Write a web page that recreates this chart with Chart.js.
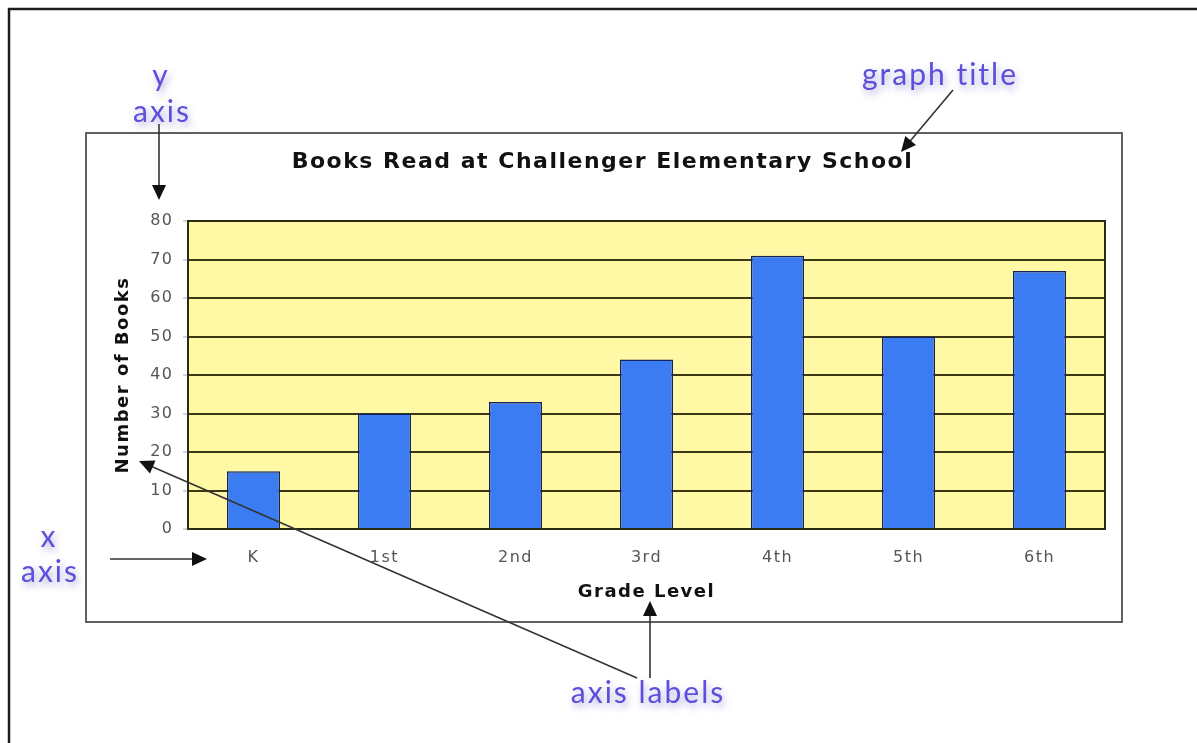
<!DOCTYPE html>
<html>
<head>
<meta charset="utf-8">
<script src="https://cdn.jsdelivr.net/npm/chart.js@4"></script>
<style>
  html, body { margin: 0; padding: 0; background: #fff; }
  canvas { display: block; }
</style>
</head>
<body>
<canvas id="chart" width="1197" height="743"></canvas>
<script>
// data
const grades = ['K', '1st', '2nd', '3rd', '4th', '5th', '6th'];
const booksRead = [15, 30, 33, 44, 71, 50, 67];
const yTicks = [0, 10, 20, 30, 40, 50, 60, 70, 80];
const chartTitle = 'Books Read at Challenger Elementary School';
const xTitle = 'Grade Level';
const yTitle = 'Number of Books';

Chart.defaults.font.family = "'DejaVu Sans', Verdana, sans-serif";

function arrow(ctx, x1, y1, x2, y2) {
  const a = Math.atan2(y2 - y1, x2 - x1);
  const len = 15, w = 7;
  ctx.beginPath();
  ctx.moveTo(x1, y1);
  ctx.lineTo(x2 - Math.cos(a) * len * 0.8, y2 - Math.sin(a) * len * 0.8);
  ctx.stroke();
  ctx.beginPath();
  ctx.moveTo(x2, y2);
  ctx.lineTo(x2 - Math.cos(a) * len - Math.sin(a) * w, y2 - Math.sin(a) * len + Math.cos(a) * w);
  ctx.lineTo(x2 - Math.cos(a) * len + Math.sin(a) * w, y2 - Math.sin(a) * len - Math.cos(a) * w);
  ctx.closePath();
  ctx.fill();
}

function note(ctx, text, x, y) {
  ctx.save();
  ctx.font = "30px Lato, 'Open Sans', sans-serif";
  ctx.letterSpacing = '2px';
  ctx.textAlign = 'center';
  ctx.textBaseline = 'alphabetic';
  ctx.shadowColor = 'rgba(110,100,190,0.55)';
  ctx.shadowBlur = 7;
  ctx.shadowOffsetX = 2;
  ctx.shadowOffsetY = 4;
  ctx.fillStyle = '#5b4fdc';
  ctx.fillText(text, x + 1, y);
  ctx.restore();
}

// frames, plot background and the teaching notes round the chart
const decor = {
  id: 'decor',
  beforeDraw(chart) {
    const { ctx, chartArea: a } = chart;
    ctx.save();
    // page frame (top and left only, the rest is cut off)
    ctx.strokeStyle = '#1c1c1c';
    ctx.lineWidth = 2.5;
    ctx.beginPath();
    ctx.moveTo(9, 743);
    ctx.lineTo(9, 9);
    ctx.lineTo(1197, 9);
    ctx.stroke();
    // chart box
    ctx.strokeStyle = '#3a3a3a';
    ctx.lineWidth = 1.6;
    ctx.strokeRect(86, 133, 1036, 489);
    // plot area
    ctx.fillStyle = '#fff9a6';
    ctx.fillRect(a.left, a.top, a.right - a.left, a.bottom - a.top);
    ctx.restore();
    // the source image is stretched sideways, widen the chart's text a bit
    ctx.letterSpacing = '1.5px';
  },
  afterDraw(chart) {
    const { ctx, chartArea: a } = chart;
    ctx.letterSpacing = '0px';
    ctx.save();
    ctx.strokeStyle = '#2b2a12';
    ctx.lineWidth = 2;
    ctx.strokeRect(a.left, a.top, a.right - a.left, a.bottom - a.top);

    ctx.strokeStyle = '#333';
    ctx.fillStyle = '#111';
    ctx.lineWidth = 1.6;
    arrow(ctx, 159, 124, 159, 200);
    arrow(ctx, 953, 90, 901, 152);
    arrow(ctx, 110, 559, 207, 559);
    arrow(ctx, 637, 678, 139, 461);
    arrow(ctx, 650, 678, 650, 601);
    ctx.restore();

    note(ctx, 'y', 160, 86);
    note(ctx, 'axis', 161, 122);
    note(ctx, 'graph title', 939, 85);
    note(ctx, 'x', 48, 547);
    note(ctx, 'axis', 49, 582);
    note(ctx, 'axis labels', 647, 703);
  }
};

new Chart(document.getElementById('chart'), {
  type: 'bar',
  data: {
    labels: grades,
    datasets: [{
      label: 'Books',
      data: booksRead,
      backgroundColor: '#3b7cf3',
      borderColor: '#14245a',
      borderWidth: 1.5,
      categoryPercentage: 1,
      barPercentage: 0.405
    }]
  },
  options: {
    responsive: false,
    animation: false,
    layout: { padding: { left: 100, right: 92, top: 133, bottom: 120 } },
    plugins: {
      legend: { display: false },
      tooltip: { enabled: false },
      title: {
        display: true,
        text: chartTitle,
        color: '#111',
        font: { size: 22, weight: 'bold' },
        padding: { top: 15.8, bottom: 45.8 }
      }
    },
    scales: {
      x: {
        afterFit: s => { s.height = 94; },
        grid: { display: false, drawTicks: false },
        border: { display: false },
        ticks: { color: '#555', font: { size: 16 }, padding: 19 },
        title: {
          display: true,
          text: xTitle,
          color: '#111',
          font: { size: 18, weight: 'bold' },
          padding: { top: 0, bottom: 20 }
        }
      },
      y: {
        min: 0,
        max: 80,
        afterFit: s => { s.width = 88; },
        afterBuildTicks: s => { s.ticks = yTicks.map(v => ({ value: v })); },
        grid: {
          color: '#3a3712',
          lineWidth: 2,
          drawTicks: true,
          tickLength: 5,
          tickColor: '#aaa',
          tickWidth: 1
        },
        border: { display: false },
        ticks: { color: '#555', font: { size: 16 }, padding: 9.5 },
        title: {
          display: true,
          text: yTitle,
          color: '#111',
          font: { size: 18, weight: 'bold' },
          padding: { top: 13, bottom: 0 }
        }
      }
    }
  },
  plugins: [decor]
});
</script>
</body>
</html>
